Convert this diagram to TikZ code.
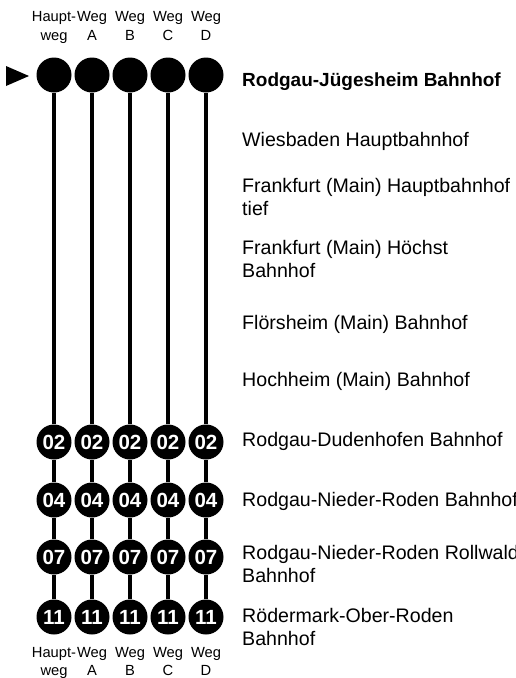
\documentclass[tikz,border=0pt]{standalone}
\usepackage{fontspec}
\setmainfont{Liberation Sans}
\begin{document}
\begin{tikzpicture}[x=1pt,y=-1pt,
  stopbig/.style={circle,fill=black,minimum size=35pt,inner sep=0pt},
  stopnum/.style={circle,fill=black,minimum size=35pt,inner sep=0pt,text=white,font=\fontsize{20.5}{20.5}\selectfont\bfseries},
  track/.style={line width=4.4pt},
  hdr/.style={font=\fontsize{14.7}{17}\selectfont,anchor=base,inner sep=0pt},
  stn/.style={font=\fontsize{19.6}{23}\selectfont,align=left,anchor=base west,inner sep=0pt}]
\useasboundingbox (0,0) rectangle (515,678);
\clip (0,0) rectangle (515,678);
% pointer
\fill (6,66) -- (29,76) -- (6,86) -- cycle;
% columns
\foreach \i/\ta/\tb in {1/Haupt-/weg,2/Weg/A,3/Weg/B,4/Weg/C,5/Weg/D}{
  \pgfmathsetmacro{\cx}{54+38*(\i-1)}
  \node[hdr] (ha\i) at (\cx,21) {\ta};
  \node[hdr] (hb\i) at (\cx,40) {\tb};
  \node[hdr] (fa\i) at (\cx,657) {\ta};
  \node[hdr] (fb\i) at (\cx,675) {\tb};
  \node[stopbig] (t\i) at (\cx,75) {};
  \node[stopnum] (a\i) at (\cx,442) {02};
  \node[stopnum] (b\i) at (\cx,500) {04};
  \node[stopnum] (c\i) at (\cx,557) {07};
  \node[stopnum] (d\i) at (\cx,617) {11};
  \draw[track] (t\i) -- (a\i);
  \draw[track] (a\i) -- (b\i);
  \draw[track] (b\i) -- (c\i);
  \draw[track] (c\i) -- (d\i);
}
% station names (base anchor = baseline of last line)
\node[stn,font=\fontsize{19}{23}\selectfont\bfseries] (s0) at (242,86) {Rodgau-Jügesheim Bahnhof};
\node[stn] (s1) at (242,146) {Wiesbaden Hauptbahnhof};
\node[stn] (s2) at (242,215) {Frankfurt (Main) Hauptbahnhof\\tief};
\node[stn] (s3) at (242,277) {Frankfurt (Main) Höchst\\Bahnhof};
\node[stn] (s4) at (242,329) {Flörsheim (Main) Bahnhof};
\node[stn] (s5) at (242,386) {Hochheim (Main) Bahnhof};
\node[stn] (s6) at (242,446) {Rodgau-Dudenhofen Bahnhof};
\node[stn] (s7) at (242,506) {Rodgau-Nieder-Roden Bahnhof};
\node[stn] (s8) at (242,582) {Rodgau-Nieder-Roden Rollwald\\Bahnhof};
\node[stn] (s9) at (242,645) {Rödermark-Ober-Roden\\Bahnhof};
\end{tikzpicture}
\end{document}
